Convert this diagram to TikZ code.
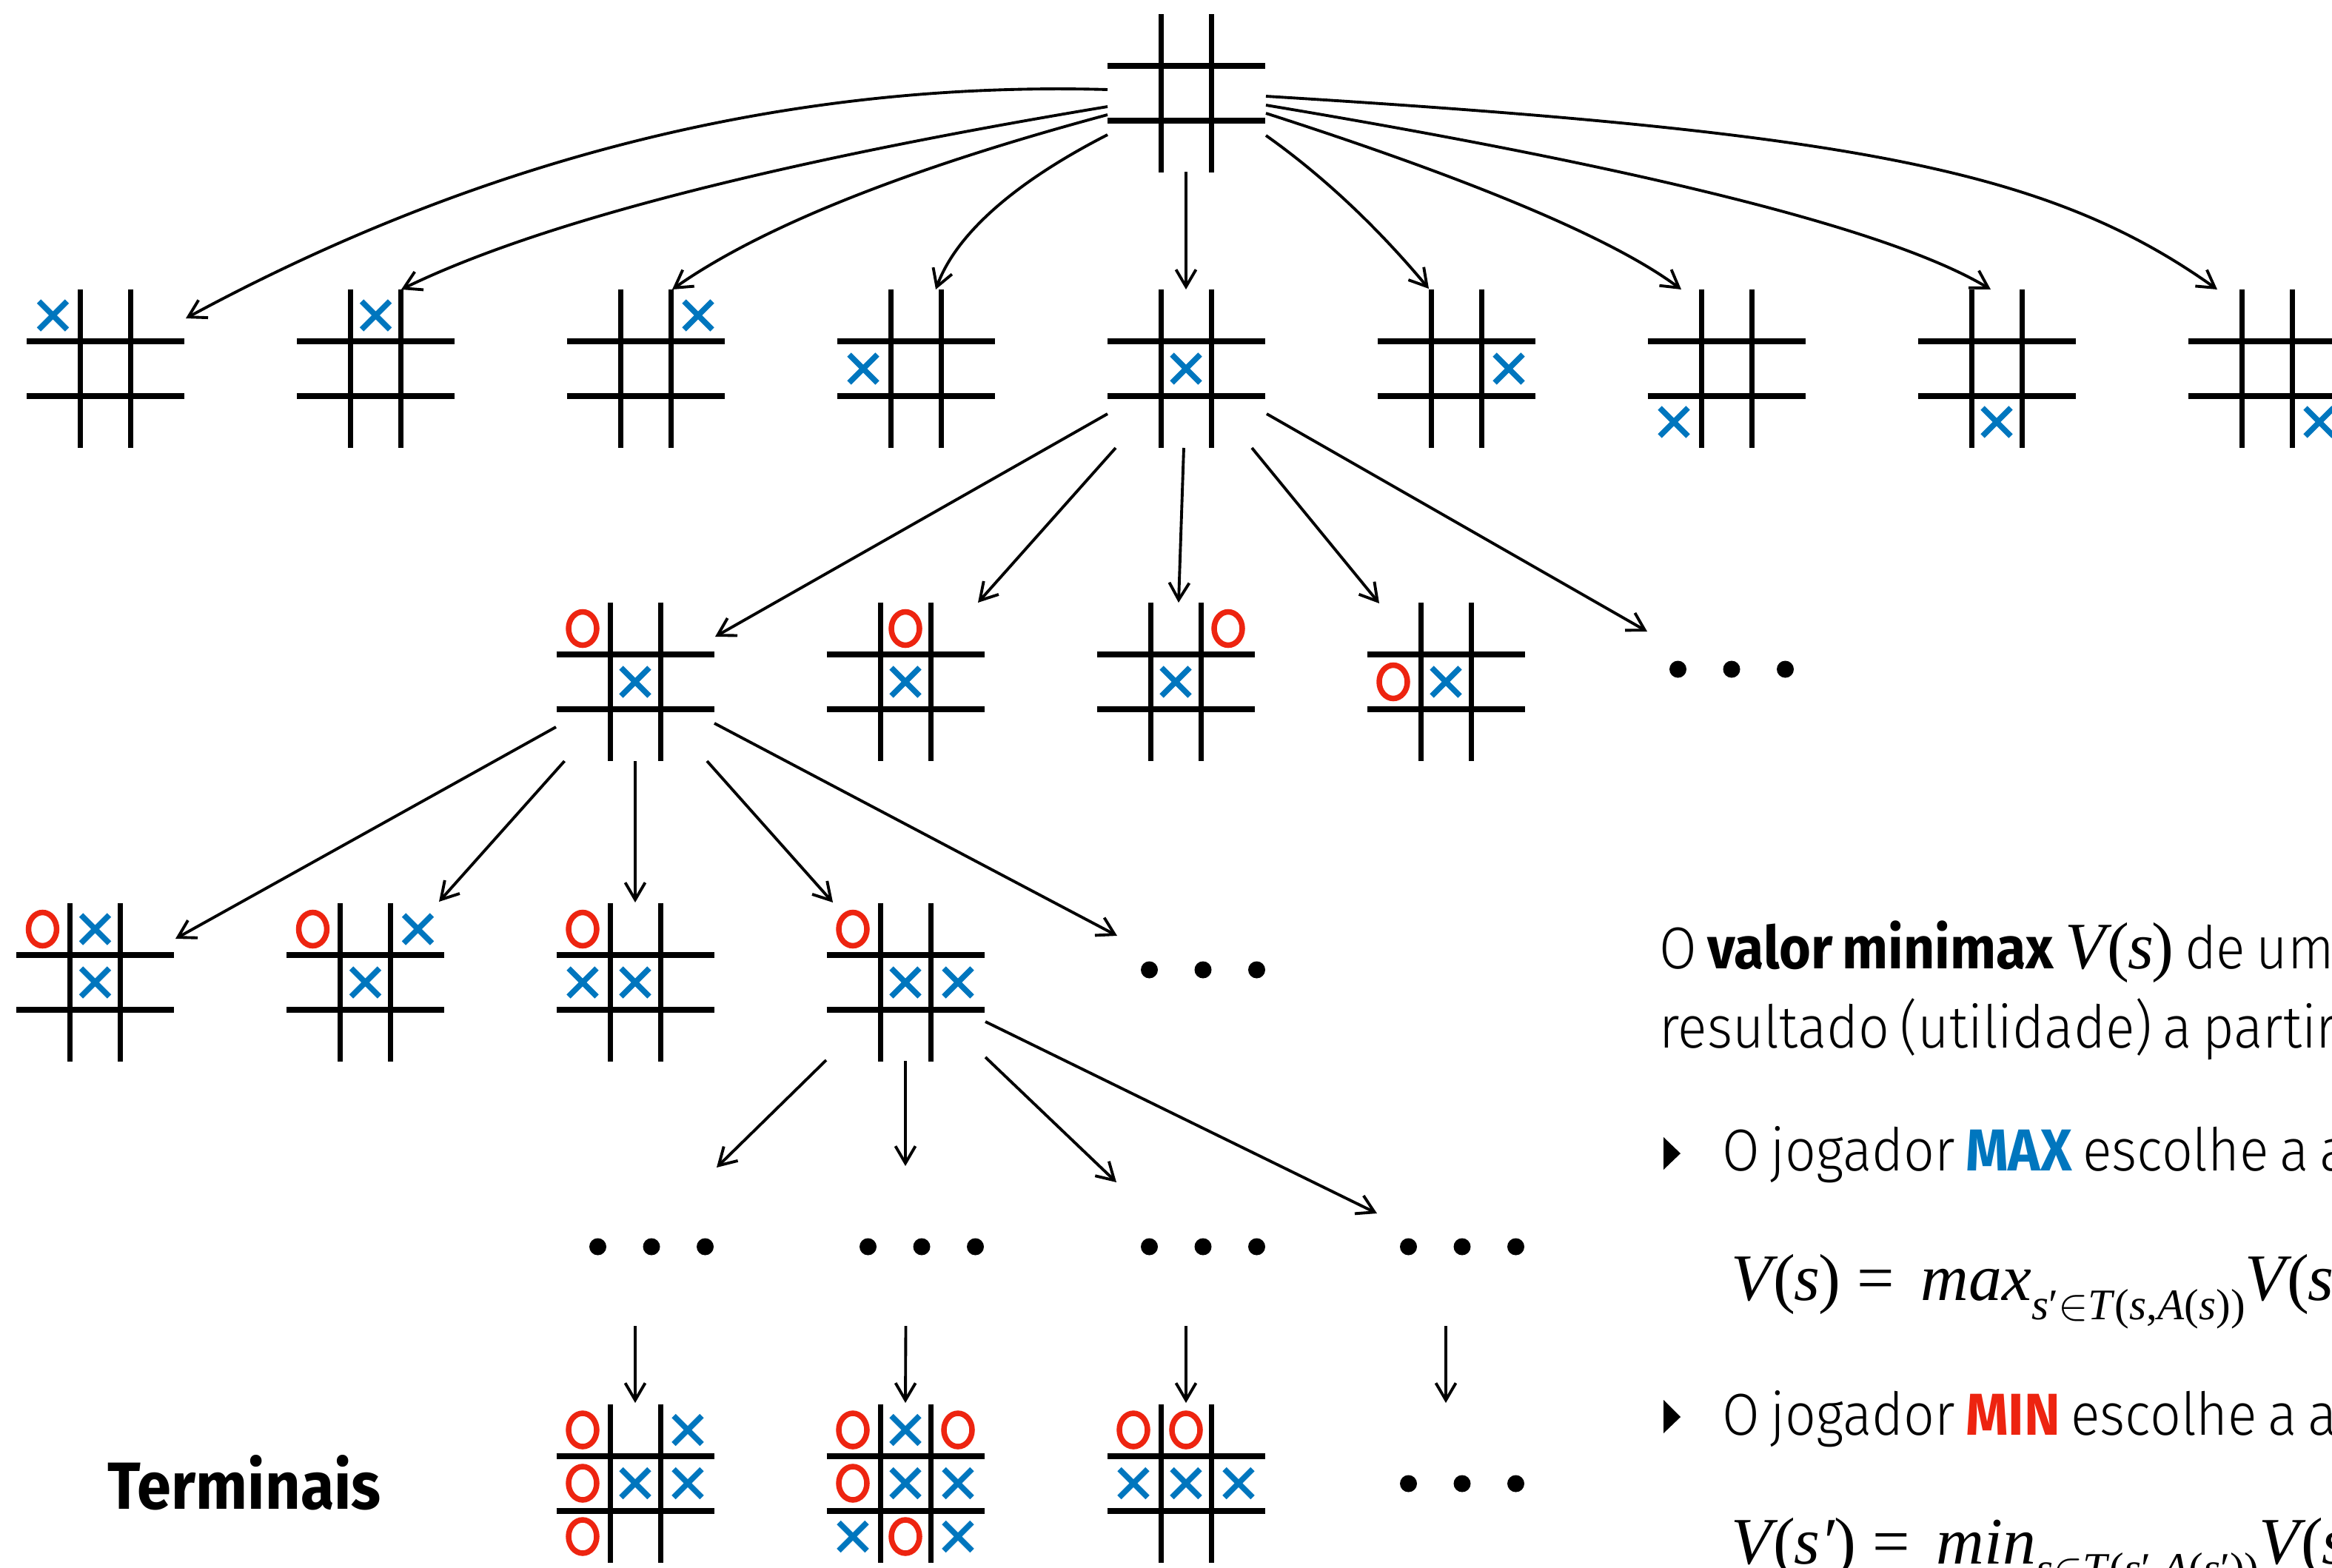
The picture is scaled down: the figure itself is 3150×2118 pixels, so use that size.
\documentclass[tikz,border=0pt]{standalone}
\usepackage{fontspec}
\setmainfont{Fira Sans Light}[BoldFont={Fira Sans Bold}, FakeStretch=0.92, WordSpace=0.7]
\newfontfamily\tms{Liberation Serif}
\usetikzlibrary{calc,arrows.meta}
\definecolor{xblue}{RGB}{0,118,190}
\definecolor{ored}{RGB}{237,36,16}
\newcommand\mainsz{\fontsize{22.7pt}{27pt}\selectfont}
\newcommand\mathsz{\fontsize{25.5pt}{30pt}\selectfont}
\newcommand\subsz{\fontsize{16.8pt}{20pt}\selectfont}
\newcommand\termsz{\fontsize{25.6pt}{29pt}\selectfont}
\newcommand\Vs[1]{\textit{V}\kern-1.8pt(\kern-0.6pt\textit{#1}\kern-0.6pt)}
\tikzset{
  boardbox/.style={minimum width=2.13cm, minimum height=2.14cm, inner sep=0pt},
  hline/.style={line width=0.08cm},
  vline/.style={line width=0.07cm},
  xmark/.style={draw=xblue, line width=0.075cm},
  omark/.style={draw=ored, line width=0.075cm},
  arr/.style={line width=1.1pt, -{Straight Barb[length=0.23cm, width=0.27cm]}},
  txt/.style={anchor=base west, inner sep=0pt},
  dotbox/.style={inner sep=0pt, minimum size=0.23cm},
}
\newcommand\tttboard[2]{%
  \node[boardbox] (#1) at (#2) {};
  \draw[hline] ($(#1)+(-106.5,-37)$) -- ($(#1)+(106.5,-37)$)
               ($(#1)+(-106.5,37)$) -- ($(#1)+(106.5,37)$);
  \draw[vline] ($(#1)+(-34,-107)$) -- ($(#1)+(-34,107)$)
               ($(#1)+(34,-107)$) -- ($(#1)+(34,107)$);
}
\newcommand\mX[3]{\draw[xmark] ($(#1)+(#2*71,#3*72)$) ++(-19,-19) -- ++(38,38) ++(0,-38) -- ++(-38,38);}
\newcommand\mO[3]{\draw[omark] ($(#1)+(#2*71,#3*72)$) ellipse[x radius=19, y radius=22.5];}
\newcommand\tdots[2]{%
  \node[dotbox] (#1) at (#2) {};
  \fill ($(#1)+(-72.5,0)$) circle[radius=11.5] ($(#1)$) circle[radius=11.5] ($(#1)+(72.5,0)$) circle[radius=11.5];
}
\begin{document}
\begin{tikzpicture}[x=0.01cm, y=-0.01cm]
\useasboundingbox (0,0) rectangle (3150,2118);
\clip (0,0) rectangle (3150,2118);

% ---- boards ----
\tttboard{b0}{1602,126}
\tttboard{p1}{142.5,498}\mX{p1}{-1}{-1}
\tttboard{p2}{507.5,498}\mX{p2}{0}{-1}
\tttboard{p3}{872,498}\mX{p3}{1}{-1}
\tttboard{p4}{1237,498}\mX{p4}{-1}{0}
\tttboard{p5}{1602,498}\mX{p5}{0}{0}
\tttboard{p6}{1967,498}\mX{p6}{1}{0}
\tttboard{p7}{2332,498}\mX{p7}{-1}{1}
\tttboard{p8}{2697,498}\mX{p8}{0}{1}
\tttboard{p9}{3062,498}\mX{p9}{1}{1}

\tttboard{q1}{858,921}\mO{q1}{-1}{-1}\mX{q1}{0}{0}
\tttboard{q2}{1223,921}\mO{q2}{0}{-1}\mX{q2}{0}{0}
\tttboard{q3}{1588,921}\mO{q3}{1}{-1}\mX{q3}{0}{0}
\tttboard{q4}{1953,921}\mO{q4}{-1}{0}\mX{q4}{0}{0}
\tdots{d2}{2339,904}

\tttboard{r1}{128.5,1327}\mO{r1}{-1}{-1}\mX{r1}{0}{-1}\mX{r1}{0}{0}
\tttboard{r2}{493.5,1327}\mO{r2}{-1}{-1}\mX{r2}{1}{-1}\mX{r2}{0}{0}
\tttboard{r3}{858,1327}\mO{r3}{-1}{-1}\mX{r3}{-1}{0}\mX{r3}{0}{0}
\tttboard{r4}{1223,1327}\mO{r4}{-1}{-1}\mX{r4}{0}{0}\mX{r4}{1}{0}
\tdots{d3}{1625,1310}

\tdots{d4a}{880,1684}
\tdots{d4b}{1245,1684}
\tdots{d4c}{1625,1684}
\tdots{d4d}{1975,1684}

\tttboard{t1}{858,2003.5}
\mO{t1}{-1}{-1}\mX{t1}{1}{-1}\mO{t1}{-1}{0}\mX{t1}{0}{0}\mX{t1}{1}{0}\mO{t1}{-1}{1}
\tttboard{t2}{1223,2003.5}
\mO{t2}{-1}{-1}\mX{t2}{0}{-1}\mO{t2}{1}{-1}\mO{t2}{-1}{0}\mX{t2}{0}{0}\mX{t2}{1}{0}\mX{t2}{-1}{1}\mO{t2}{0}{1}\mX{t2}{1}{1}
\tttboard{t3}{1602,2003.5}
\mO{t3}{-1}{-1}\mO{t3}{0}{-1}\mX{t3}{-1}{0}\mX{t3}{0}{0}\mX{t3}{1}{0}
\tdots{d5}{1975,2004}

% ---- arrows level 0 -> 1 ----
\draw[arr] ($(b0)+(-106,-5)$) .. controls (1069,109) and (654,212) .. ($(p1)+(108.5,-68)$);
\draw[arr] ($(b0)+(-106,18)$) .. controls (1045,219) and (727,301) .. ($(p2)+(34.5,-107)$);
\draw[arr] ($(b0)+(-106,29)$) .. controls (1225,228) and (1029,306) .. ($(p3)+(36,-107)$);
\draw[arr] ($(b0)+(-106,56)$) .. controls (1369,247) and (1291,317) .. ($(p4)+(27,-107)$);
\draw[arr] ($(b0)+(0,106)$) -- ($(p5)+(0,-107)$);
\draw[arr] ($(b0)+(108,57)$) .. controls (1785,236) and (1859,305) .. ($(p6)+(-37,-108)$);
\draw[arr] ($(b0)+(108,27)$) .. controls (1993,244) and (2180,323) .. ($(p7)+(-61,-107)$);
\draw[arr] ($(b0)+(108,16)$) .. controls (2231,229) and (2558,312) .. ($(p8)+(-8,-107)$);
\draw[arr] ($(b0)+(108,4)$) .. controls (2513,179) and (2770,231) .. ($(p9)+(-67,-107)$);

% ---- arrows level 1 -> 2 ----
\draw[arr] ($(p5)+(-106,61)$) -- ($(q1)+(108,-61)$);
\draw[arr] ($(p5)+(-95,107)$) -- ($(q2)+(98,-107)$);
\draw[arr] ($(p5)+(-3,107)$) -- ($(q3)+(4,-107)$);
\draw[arr] ($(p5)+(89,107)$) -- ($(q4)+(-90,-106)$);
\draw[arr] ($(p5)+(109,61)$) -- ($(d2)+(-114,-51)$);

% ---- arrows level 2 -> 3 ----
\draw[arr] ($(q1)+(-107,61)$) -- ($(r1)+(108.5,-59)$);
\draw[arr] ($(q1)+(-95.5,107)$) -- ($(r2)+(99.5,-109)$);
\draw[arr] ($(q1)+(0,107)$) -- ($(r3)+(0,-108)$);
\draw[arr] ($(q1)+(97,107)$) -- ($(r4)+(-98,-108)$);
\draw[arr] ($(q1)+(107,56)$) -- ($(d3)+(-116,-46)$);

% ---- arrows level 3 -> 4 ----
\draw[arr] ($(r4)+(-107,105)$) -- ($(d4a)+(88,-107)$);
\draw[arr] ($(r4)+(0,106)$) -- ($(d4b)+(-22,-109)$);
\draw[arr] ($(r4)+(108,101)$) -- ($(d4c)+(-117,-87)$);
\draw[arr] ($(r4)+(108,53)$) -- ($(d4d)+(-115,-45)$);

% ---- arrows level 4 -> terminals ----
\draw[arr] ($(d4a)+(-22,107)$) -- ($(t1)+(0,-108.5)$);
\draw[arr] ($(d4b)+(-21.5,107)$) -- ($(t2)+(0,-108.5)$);
\draw[arr] ($(d4c)+(-23,107)$) -- ($(t3)+(0,-108.5)$);
\draw[arr] ($(d4d)+(-22,107)$) -- ($(d5)+(-22,-109)$);

% ---- texts ----
\node[txt, font=\termsz\bfseries] (term) at (145,2038) {Terminais};

\node[txt, font=\mainsz] (txa) at (2241,1308) {O \textbf{valor minimax} {\mathsz\tms\Vs{s}} de um};
\node[txt, font=\mainsz] (txb) at (2241,1415) {resultado (utilidade) a partir de};

\fill (2247,1536) -- (2270,1558) -- (2247,1580) -- cycle;
\node[txt, font=\mainsz] (txc) at (2326,1581) {O jogador \textbf{\color{xblue}MAX} escolhe a ação};
\node[txt] (mta) at (2338,1756) {{\mathsz\tms\Vs{s}\hspace{6.5pt}=\hspace{10pt}\textit{max}}\raisebox{-7.4pt}{\subsz\tms\textit{s}′$\in$\textit{T}(\textit{s},\textit{A}(\textit{s}))}{\mathsz\tms\Vs{s′}}};

\fill (2247,1891) -- (2270,1914) -- (2247,1936) -- cycle;
\node[txt, font=\mainsz] (txd) at (2326,1938) {O jogador \textbf{\color{ored}MIN} escolhe a ação};
\node[txt] (mtb) at (2338,2112) {{\mathsz\tms\Vs{s′}\hspace{6.5pt}=\hspace{10pt}\textit{min}}\raisebox{-7.4pt}{\subsz\tms\textit{s}$\in$\textit{T}(\textit{s}′,\textit{A}(\textit{s}′))}{\mathsz\tms\Vs{s}}};
\end{tikzpicture}
\end{document}
